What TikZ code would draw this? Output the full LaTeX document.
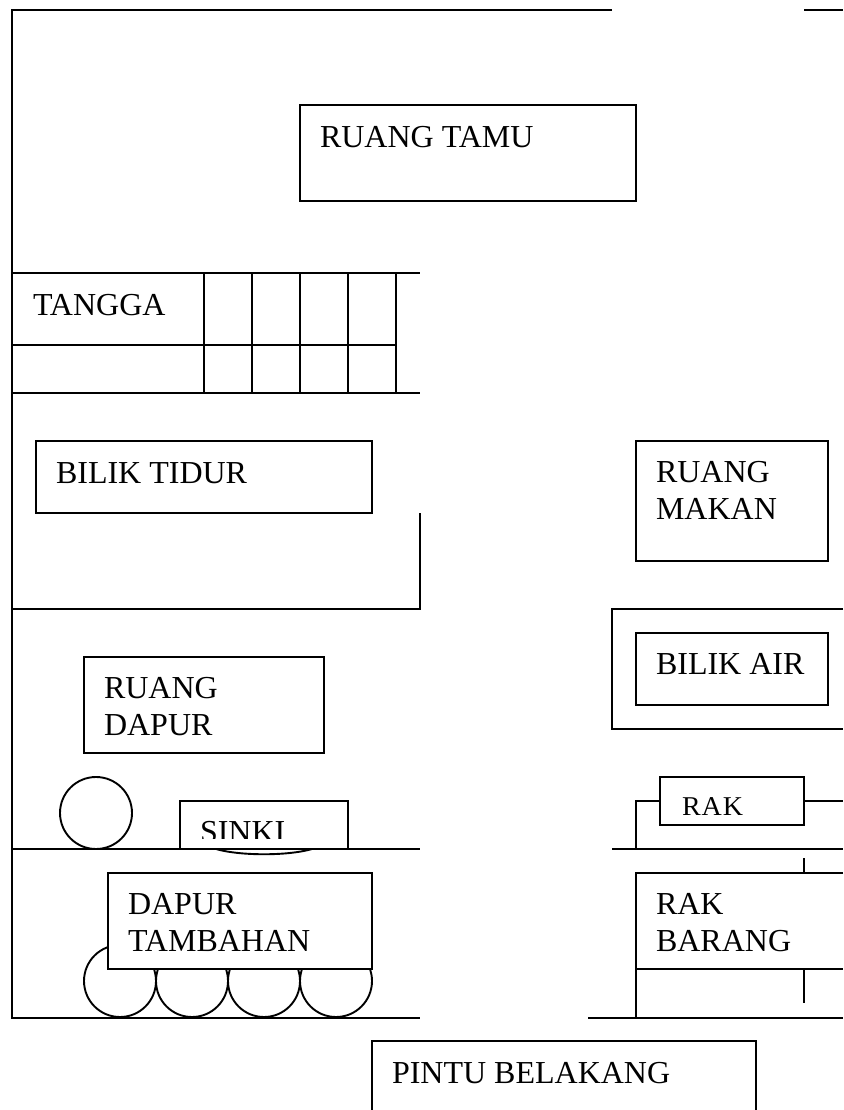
\documentclass[tikz,border=0pt]{standalone}
\usepackage{fontspec}
\setmainfont{Liberation Serif}
\tikzset{
  wall/.style={draw=black,line width=1.9pt,line cap=butt},
  txt/.style={anchor=base west,inner sep=0pt,outer sep=0pt,font=\fontsize{32}{36}\selectfont,text=black}
}
\begin{document}
\begin{tikzpicture}[x=1pt,y=-1pt]
\useasboundingbox (0,0) rectangle (843,1110);
\fill[white] (0,0) rectangle (843,1110);
% outer walls
\draw[wall] (612,10) -- (12,10) -- (12,1018) -- (420,1018);
\draw[wall] (804,10) -- (843,10);
\draw[wall] (588,1018) -- (843,1018);
% ruang tamu
\draw[wall] (300,105) rectangle (636,201);
\node[txt] (tamu) at (320,148) {RUANG TAMU};
% tangga
\draw[wall] (12,273) -- (420,273);
\draw[wall] (12,345) -- (396,345);
\draw[wall] (12,393) -- (420,393);
\foreach \x in {204,252,300,348,396} \draw[wall] (\x,273) -- (\x,393);
\node[txt] (tangga) at (33,315) {TANGGA};
% bilik tidur
\draw[wall] (36,441) rectangle (372,513);
\node[txt] (tidur) at (56,483) {BILIK TIDUR};
\draw[wall] (420,513) -- (420,609) -- (12,609);
% ruang makan
\draw[wall] (636,441) rectangle (828,561);
\node[txt] (makan1) at (656,482) {RUANG};
\node[txt] (makan2) at (656,519) {MAKAN};
% bilik air
\draw[wall] (843,609) -- (612,609) -- (612,729) -- (843,729);
\draw[wall] (636,633) rectangle (828,705);
\node[txt] (air) at (656,674) {BILIK AIR};
% ruang dapur
\draw[wall] (84,657) rectangle (324,753);
\node[txt] (dapur1) at (104,698) {RUANG};
\node[txt] (dapur2) at (104,735) {DAPUR};
% stove + sink
\draw[wall] (96,813) circle (36);
\draw[wall] (216,849) .. controls (240,856) and (288,856) .. (312,849);
\draw[wall] (12,849) -- (420,849);
\draw[wall] (612,849) -- (843,849);
\draw[wall] (180,849) -- (180,801) -- (348,801) -- (348,849);
\begin{scope}
\clip (180,801) rectangle (348,838.5);
\node[txt] (sinki) at (200,842) {SINKI};
\end{scope}
% burners
\foreach \x in {120,192,264,336} \draw[wall] (\x,981) circle (36);
\draw[wall,fill=white] (108,873) rectangle (372,969);
\node[txt] (tambah1) at (128,914) {DAPUR};
\node[txt] (tambah2) at (128,951) {TAMBAHAN};
% rak
\draw[wall] (636,849) -- (636,801) -- (660,801);
\draw[wall] (804,801) -- (843,801);
\draw[wall] (660,777) rectangle (804,825);
\node[txt,font=\fontsize{28}{36}\selectfont,yscale=0.97] (rak) at (682,815) {R\kern1pt A\kern1pt K};
% rak barang
\draw[wall] (804,858) -- (804,873);
\draw[wall] (843,873) -- (636,873) -- (636,1018);
\draw[wall] (636,969) -- (843,969);
\draw[wall] (804,969) -- (804,1003);
\node[txt] (barang1) at (656,914) {RAK};
\node[txt] (barang2) at (656,951) {BARANG};
% pintu belakang
\draw[wall] (372,1110) -- (372,1041) -- (756,1041) -- (756,1110);
\node[txt] (pintu) at (392,1083) {PINTU BELAKANG};
\end{tikzpicture}
\end{document}
